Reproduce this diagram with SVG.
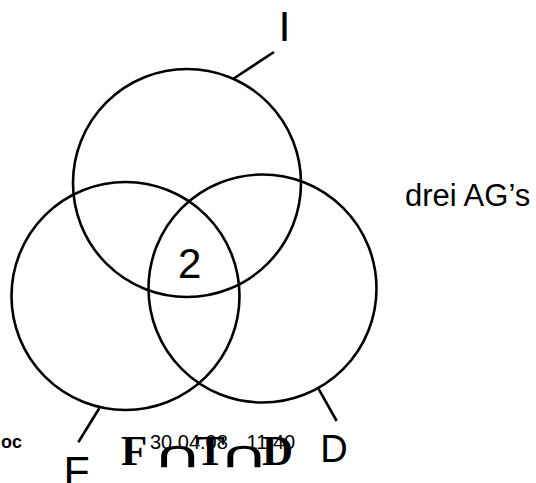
<svg xmlns="http://www.w3.org/2000/svg" width="536" height="483" viewBox="0 0 536 483">
<style>
.c{fill:none;stroke:#000;stroke-width:2.6}
.l{stroke:#000;stroke-width:2.6;fill:none}
.t{font-family:"Liberation Sans",Arial,sans-serif;fill:#000}
.s{font-family:"Liberation Serif","Times New Roman",serif;font-weight:bold;fill:#000}
.u{font-family:"DejaVu Sans",sans-serif;fill:#000}
</style>
<rect width="536" height="483" fill="#fff"/>
<g id="node-I">
<circle class="c" cx="187" cy="183" r="114"/>
<text class="t" x="278.5" y="40.7" font-size="43">I</text>
</g>
<g id="node-F">
<circle class="c" cx="125.5" cy="296" r="114"/>
<text class="t" x="63.5" y="486" font-size="43">F</text>
</g>
<g id="node-D">
<circle class="c" cx="262.5" cy="288.5" r="114"/>
<text class="t" x="320.3" y="462.3" font-size="38">D</text>
</g>
<g id="connectors">
<line class="l" x1="274" y1="52" x2="233" y2="79"/>
<line class="l" x1="99.3" y1="408.3" x2="78.3" y2="442.3"/>
<line class="l" x1="318.3" y1="388.3" x2="336.7" y2="421"/>
</g>
<g id="center">
<text class="t" x="178" y="278.3" font-size="42">2</text>
</g>
<text class="t" x="405" y="206" font-size="31">drei AG’s</text>
<text class="t" x="22" y="448.3" font-size="18" font-weight="bold" text-anchor="end">oc</text>
<text class="s" font-size="43" y="465"><tspan x="121">F</tspan><tspan x="196">T</tspan><tspan x="262">D</tspan></text>
<text class="u" font-size="37" transform="translate(152,466.7) scale(1.9,1)"><tspan x="0" y="0">∩</tspan><tspan x="34.9" y="0">∩</tspan></text>
<text class="t" y="449.3" font-size="20"><tspan x="150">30.04.08</tspan><tspan x="246.6">11:40</tspan></text>
</svg>
